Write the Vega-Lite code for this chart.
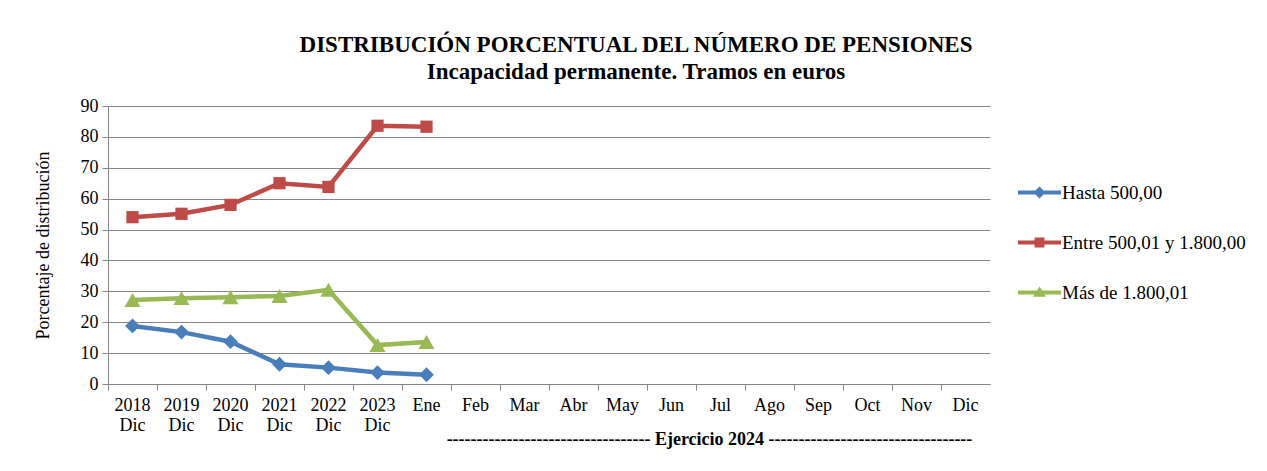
{
  "$schema": "https://vega.github.io/schema/vega-lite/v6.json",
  "autosize": {"type": "none"},
  "width": 882,
  "height": 278,
  "padding": {"left": 108, "top": 106, "right": 277, "bottom": 87},
  "background": "white",
  "config": {
    "font": "Liberation Serif",
    "view": {"stroke": null}
  },
  "title": {
    "text": ["DISTRIBUCIÓN PORCENTUAL DEL NÚMERO DE PENSIONES", "Incapacidad permanente. Tramos en euros"],
    "font": "Liberation Serif",
    "fontSize": 23,
    "fontWeight": "bold",
    "color": "black",
    "lineHeight": 27,
    "anchor": "middle",
    "dx": 87,
    "offset": 13
  },
  "data": {
    "values": [
      {"cat": "2018 Dic", "serie": "Hasta 500,00", "value": 18.8},
      {"cat": "2019 Dic", "serie": "Hasta 500,00", "value": 16.8},
      {"cat": "2020 Dic", "serie": "Hasta 500,00", "value": 13.7},
      {"cat": "2021 Dic", "serie": "Hasta 500,00", "value": 6.4},
      {"cat": "2022 Dic", "serie": "Hasta 500,00", "value": 5.3},
      {"cat": "2023 Dic", "serie": "Hasta 500,00", "value": 3.7},
      {"cat": "Ene", "serie": "Hasta 500,00", "value": 3.0},
      {"cat": "2018 Dic", "serie": "Entre 500,01 y 1.800,00", "value": 54.0},
      {"cat": "2019 Dic", "serie": "Entre 500,01 y 1.800,00", "value": 55.1},
      {"cat": "2020 Dic", "serie": "Entre 500,01 y 1.800,00", "value": 58.0},
      {"cat": "2021 Dic", "serie": "Entre 500,01 y 1.800,00", "value": 65.0},
      {"cat": "2022 Dic", "serie": "Entre 500,01 y 1.800,00", "value": 63.8},
      {"cat": "2023 Dic", "serie": "Entre 500,01 y 1.800,00", "value": 83.6},
      {"cat": "Ene", "serie": "Entre 500,01 y 1.800,00", "value": 83.3},
      {"cat": "2018 Dic", "serie": "Más de 1.800,01", "value": 27.2},
      {"cat": "2019 Dic", "serie": "Más de 1.800,01", "value": 27.8},
      {"cat": "2020 Dic", "serie": "Más de 1.800,01", "value": 28.1},
      {"cat": "2021 Dic", "serie": "Más de 1.800,01", "value": 28.5},
      {"cat": "2022 Dic", "serie": "Más de 1.800,01", "value": 30.5},
      {"cat": "2023 Dic", "serie": "Más de 1.800,01", "value": 12.6},
      {"cat": "Ene", "serie": "Más de 1.800,01", "value": 13.6}
    ]
  },
  "encoding": {
    "x": {
      "field": "cat",
      "type": "nominal",
      "sort": null,
      "scale": {
        "type": "band",
        "domain": ["2018 Dic", "2019 Dic", "2020 Dic", "2021 Dic", "2022 Dic", "2023 Dic", "Ene", "Feb", "Mar", "Abr", "May", "Jun", "Jul", "Ago", "Sep", "Oct", "Nov", "Dic"],
        "paddingInner": 0,
        "paddingOuter": 0
      },
      "axis": {
        "title": "---------------------------------- Ejercicio 2024 ----------------------------------",
        "titleFont": "Liberation Serif",
        "titleFontSize": 18,
        "titleFontWeight": "bold",
        "titleColor": "black",
        "titleX": 601,
        "titleY": 60,
        "titleAlign": "center",
        "titleBaseline": "alphabetic",
        "labelExpr": "split(datum.label, ' ')",
        "labelAngle": 0,
        "labelFont": "Liberation Serif",
        "labelFontSize": 18,
        "labelColor": "black",
        "labelLineHeight": 20,
        "labelPadding": 6,
        "labelBaseline": "top",
        "bandPosition": 0,
        "tickSize": 6,
        "tickColor": "#868686",
        "domainColor": "#868686",
        "grid": false
      }
    },
    "y": {
      "field": "value",
      "type": "quantitative",
      "scale": {"domain": [0, 90], "nice": false},
      "axis": {
        "title": "Porcentaje de distribución",
        "titleFont": "Liberation Serif",
        "titleFontSize": 18,
        "titleFontWeight": "normal",
        "titleColor": "black",
        "titlePadding": 28,
        "values": [0, 10, 20, 30, 40, 50, 60, 70, 80, 90],
        "labelFont": "Liberation Serif",
        "labelFontSize": 18,
        "labelColor": "black",
        "labelPadding": 4,
        "tickSize": 6,
        "tickColor": "#868686",
        "domainColor": "#868686",
        "grid": true,
        "gridColor": "#868686",
        "gridWidth": 1
      }
    },
    "color": {
      "field": "serie",
      "type": "nominal",
      "sort": null,
      "scale": {
        "domain": ["Hasta 500,00", "Entre 500,01 y 1.800,00", "Más de 1.800,01"],
        "range": ["#4A7EBB", "#BE4B48", "#98B954"]
      },
      "legend": {
        "title": null,
        "orient": "none",
        "legendX": 910,
        "legendY": 65,
        "padding": 0,
        "symbolSize": 1849,
        "symbolStrokeWidth": 0,
        "symbolOpacity": 1,
        "labelFont": "Liberation Serif",
        "labelFontSize": 19,
        "labelColor": "black",
        "labelOffset": 1,
        "labelLimit": 300,
        "rowPadding": 18,
        "encode": {
          "symbols": {
            "update": {
              "shape": {"signal": "datum.value === 'Hasta 500,00' ? 'M-1,-0.09H1V0.09H-1Z M0,-0.28L0.28,0L0,0.28L-0.28,0Z' : datum.value === 'Entre 500,01 y 1.800,00' ? 'M-1,-0.09H1V0.09H-1Z M-0.23,-0.23H0.23V0.23H-0.23Z' : 'M-1,-0.09H1V0.09H-1Z M0,-0.28L0.3,0.2H-0.3Z'"},
              "fill": {"signal": "datum.value === 'Hasta 500,00' ? '#4A7EBB' : datum.value === 'Entre 500,01 y 1.800,00' ? '#BE4B48' : '#98B954'"},
              "strokeWidth": {"value": 0},
              "opacity": {"value": 1}
            }
          }
        }
      }
    }
  },
  "layer": [
    {
      "mark": {"type": "line", "strokeWidth": 4.5}
    },
    {
      "transform": [{"filter": "datum.serie === 'Hasta 500,00'"}],
      "mark": {"type": "point", "filled": true, "opacity": 1, "shape": "diamond", "size": 220}
    },
    {
      "transform": [{"filter": "datum.serie === 'Entre 500,01 y 1.800,00'"}],
      "mark": {"type": "point", "filled": true, "opacity": 1, "shape": "square", "size": 150}
    },
    {
      "transform": [{"filter": "datum.serie === 'Más de 1.800,01'"}],
      "mark": {"type": "point", "filled": true, "opacity": 1, "shape": "triangle-up", "size": 260}
    }
  ]
}
